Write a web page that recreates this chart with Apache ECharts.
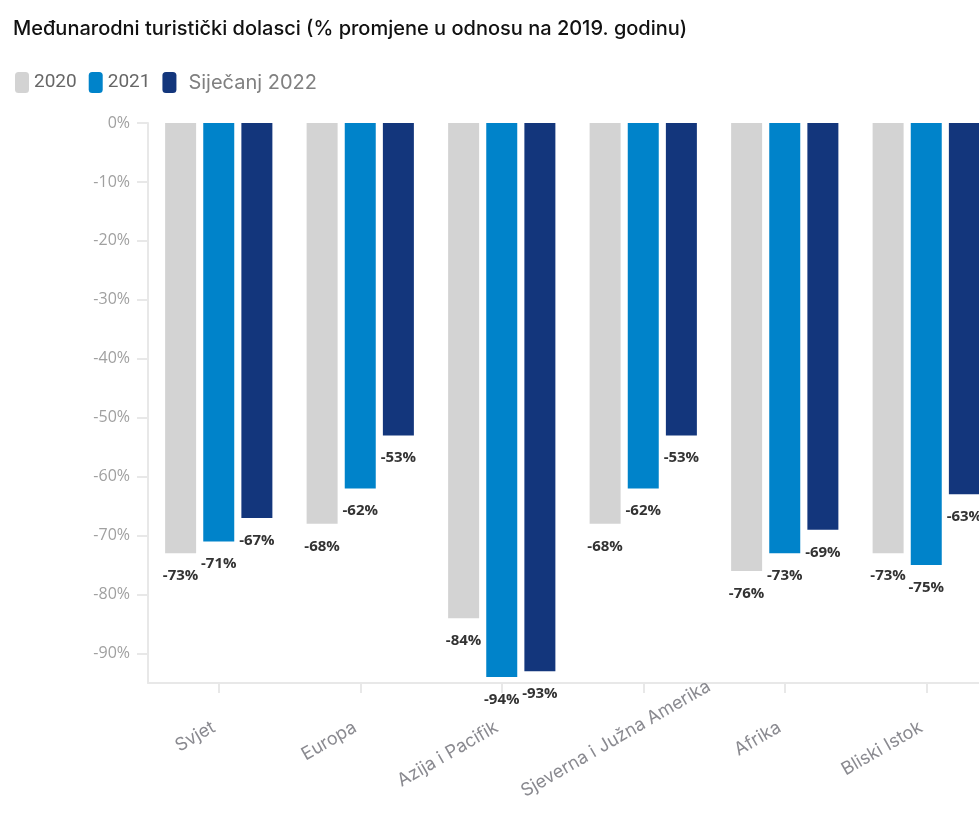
<!DOCTYPE html>
<html>
<head>
<meta charset="utf-8">
<script src="https://cdn.jsdelivr.net/npm/echarts@6/dist/echarts.min.js"></script>
<style>
html,body{margin:0;padding:0;background:#fff;}
#chart{width:979px;height:814px;}
</style>
</head>
<body>
<div id="chart"></div>
<script>
const titleText = 'Međunarodni turistički dolasci (% promjene u odnosu na 2019. godinu)';
const categories = ['Svjet', 'Europa', 'Azija i Pacifik', 'Sjeverna i Južna Amerika', 'Afrika', 'Bliski Istok'];
const seriesNames = ['2020', '2021', 'Siječanj 2022'];
const values2020 = [-73, -68, -84, -68, -76, -73];
const values2021 = [-71, -62, -94, -62, -73, -75];
const valuesJan2022 = [-67, -53, -93, -53, -69, -63];
const yTicks = [0, -10, -20, -30, -40, -50, -60, -70, -80, -90];
const colors = ['#d3d3d3', '#0083ca', '#13367c'];

const chart = echarts.init(document.getElementById('chart'));

function barSeries(name, data, color) {
  return {
    name: name,
    type: 'bar',
    data: data,
    barWidth: 31,
    barGap: '23%',
    itemStyle: { color: color },
    label: {
      show: true,
      position: 'bottom',
      distance: 15,
      formatter: p => p.value + '%',
      fontFamily: '"Open Sans", sans-serif',
      fontWeight: 'bold',
      fontSize: 15,
      color: '#333',
      textBorderColor: '#fff',
      textBorderWidth: 2
    }
  };
}

const xData = categories.map(c => c === 'Sjeverna i Južna Amerika'
  ? { value: c, textStyle: { padding: [18, -76, 0, 0] } }
  : c);

chart.setOption({
  animation: false,
  backgroundColor: '#fff',
  title: {
    text: titleText,
    left: 8,
    top: 14,
    textStyle: { fontFamily: 'Inter, sans-serif', fontSize: 20, fontWeight: 500, color: '#111' }
  },
  legend: {
    left: 10,
    top: 67,
    itemWidth: 14,
    itemHeight: 21,
    itemGap: 12,
    icon: 'roundRect',
    data: seriesNames,
    formatter: name => name === 'Siječanj 2022' ? '{b|' + name + '}' : '{a|' + name + '}',
    textStyle: {
      rich: {
        a: { fontFamily: 'Roboto, sans-serif', fontSize: 19, color: '#666' },
        b: { fontFamily: 'Inter, sans-serif', fontSize: 20, color: '#808080', padding: [0, 0, 0, 7] }
      }
    }
  },
  grid: { left: 148, top: 123, width: 849, height: 560, containLabel: false, outerBoundsMode: 'none' },
  xAxis: {
    type: 'category',
    data: xData,
    axisLine: { show: true, onZero: false, lineStyle: { color: '#e8e8e8', width: 2 } },
    axisTick: { show: true, alignWithLabel: true, length: 10, lineStyle: { color: '#e8e8e8', width: 2 } },
    axisLabel: {
      interval: 0,
      rotate: 30,
      margin: 40,
      padding: [0, 6, 0, 0],
      fontFamily: 'Inter, sans-serif',
      fontSize: 18,
      color: '#8a8a90'
    }
  },
  yAxis: {
    type: 'value',
    min: -95,
    max: 0,
    splitLine: { show: false },
    axisLine: { show: true, lineStyle: { color: '#e8e8e8', width: 2 } },
    axisTick: { show: true, length: 11, customValues: yTicks, lineStyle: { color: '#e8e8e8', width: 2 } },
    axisLabel: {
      customValues: yTicks,
      margin: 18,
      formatter: v => v + '%',
      fontFamily: '"Open Sans", sans-serif',
      fontSize: 16,
      color: '#a0a0a0'
    }
  },
  series: [
    barSeries(seriesNames[0], values2020, colors[0]),
    barSeries(seriesNames[1], values2021, colors[1]),
    barSeries(seriesNames[2], valuesJan2022, colors[2])
  ]
});
</script>
</body>
</html>
